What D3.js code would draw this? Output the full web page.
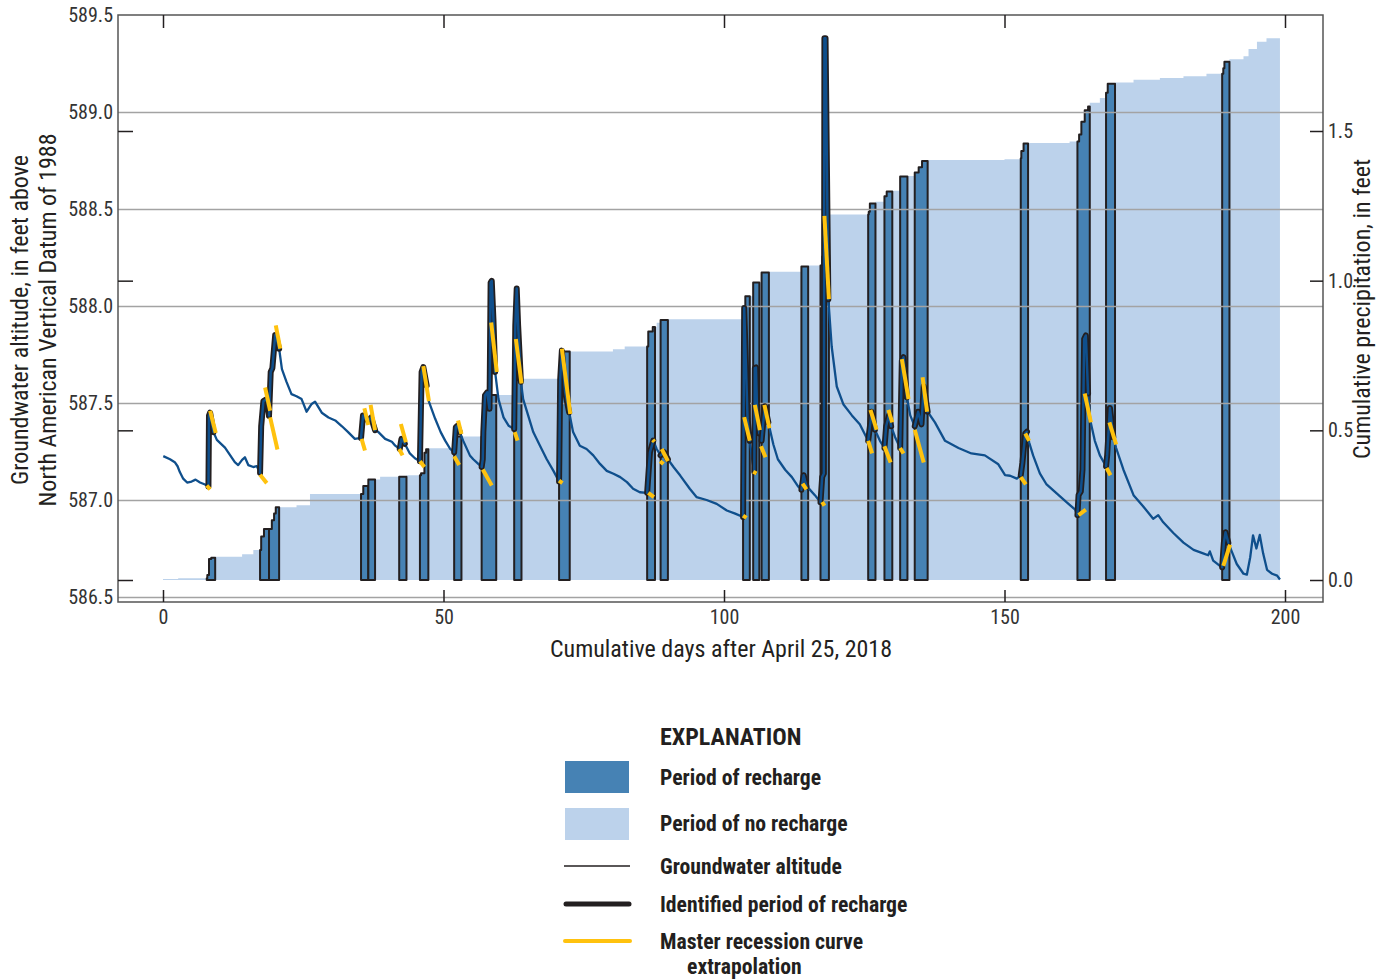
<!DOCTYPE html>
<html>
<head>
<meta charset="utf-8">
<script src="https://cdn.jsdelivr.net/npm/d3@7"></script>
<style>
  body { margin: 0; background: #fff; }
  svg text { font-family: "Liberation Sans Narrow", "Roboto Condensed", "DejaVu Sans Condensed", "Noto Sans", sans-serif; fill: #231f20; }
  .tick text { fill: #333; font-size: 20px; }
  .bold { font-weight: bold; }
</style>
</head>
<body>
<div id="chart"></div>
<script>
// tick values
const dayTicks = [0, 50, 100, 150, 200];
const altTicks = [586.5, 587.0, 587.5, 588.0, 588.5, 589.0, 589.5];
const precipTicks = [0.0, 0.5, 1.0, 1.5];

// cumulative precipitation, feet (step after each day)
const precipDays = [0, 2.7, 7.9, 8.2, 8.6, 9.3, 14.1, 16.1, 17.5, 18.0, 19.4, 19.8, 20.1, 23.8, 26.2,
  35.7, 36.6, 38.7, 43.4, 46.0, 46.6, 46.9, 47.3, 52.0, 57.0, 57.3, 57.8, 62.7, 63.9, 70.9, 71.3,
  80.2, 82.3, 86.5, 87.3, 88.0, 88.7, 90.0, 103.5, 103.8, 105.2, 106.7, 108.0, 113.8, 115.0, 117.5,
  117.9, 118.7, 125.8, 126.0, 127.0, 128.6, 129.0, 130.0, 131.4, 132.7, 134.0, 134.7, 135.3, 136.3,
  150.0, 152.9, 153.0, 153.4, 154.2, 161.6, 163.3, 163.7, 164.3, 164.9, 165.2, 167.0, 168.1, 168.4,
  169.7, 173.0, 177.7, 181.9, 186.0, 189.0, 189.2, 190.1, 192.6, 193.5, 195.0, 196.7, 199.1];
const precipValues = [0.003, 0.006, 0.017, 0.07, 0.074, 0.078, 0.086, 0.10, 0.145, 0.17, 0.20, 0.222, 0.243, 0.25, 0.287,
  0.314, 0.336, 0.345, 0.35, 0.357, 0.425, 0.437, 0.44, 0.479, 0.50, 0.612, 0.618, 0.668, 0.672, 0.72, 0.763,
  0.771, 0.78, 0.83, 0.845, 0.859, 0.869, 0.871, 0.905, 0.948, 0.994, 1.027, 1.03, 1.047, 1.051, 1.081,
  1.215, 1.221, 1.23, 1.258, 1.264, 1.282, 1.298, 1.30, 1.348, 1.35, 1.361, 1.379, 1.40, 1.403,
  1.406, 1.409, 1.433, 1.458, 1.46, 1.465, 1.488, 1.531, 1.569, 1.582, 1.594, 1.61, 1.628, 1.658,
  1.662, 1.671, 1.677, 1.683, 1.691, 1.71, 1.731, 1.74, 1.75, 1.774, 1.798, 1.81, 1.812];

// periods of recharge, start and end day
const rechargeStart = [7.8, 17.3, 18.9, 35.3, 36.6, 42.1, 45.8, 51.9, 56.8, 62.6, 70.6, 86.3, 88.7,
  103.4, 105.2, 106.7, 113.8, 117.2, 125.7, 128.6, 131.4, 134.0, 152.9, 163.0, 168.1, 188.8];
const rechargeEnd = [9.3, 18.9, 20.7, 36.6, 37.8, 43.4, 47.3, 53.2, 59.4, 63.9, 72.5, 87.7, 90.0,
  104.6, 106.3, 108.0, 115.0, 118.7, 127.0, 130.0, 132.7, 136.3, 154.2, 165.2, 169.7, 190.1];

// groundwater altitude, feet above NAVD 88
const gwDays = [0.05, 1.25, 2.1, 2.6, 3.0, 3.6, 4.3, 5.1, 5.8, 6.6, 7.5, 8.1, 8.2, 8.4, 9.0, 9.6, 11.05,
  12.8, 13.4, 14.1, 14.6, 15.2, 16.1, 16.7, 17.3, 17.5, 17.9, 18.5, 18.9, 19.2, 19.5, 20.0, 20.1, 20.7,
  21.2, 22.0, 22.9, 23.8, 24.7, 25.6, 26.5, 27.1, 28.3, 29.5, 30.7, 31.9, 33.0, 34.2, 35.3, 35.65, 36.0,
  36.6, 37.1, 37.8, 38.4, 39.6, 40.8, 41.4, 42.2, 42.5, 43.1, 44.0, 44.9, 45.8, 46.1, 46.4, 47.0, 47.4,
  48.5, 49.5, 50.3, 51.2, 51.9, 52.2, 52.5, 52.9, 53.5, 54.7, 55.3, 56.2, 56.8, 57.0, 57.1, 57.4, 57.8,
  58.2, 58.4, 58.6, 58.9, 59.2, 59.8, 60.7, 61.6, 62.6, 62.8, 63.05, 63.3, 63.8, 64.2, 65.1, 66.0, 67.2,
  68.4, 69.6, 70.6, 70.8, 71.1, 71.7, 72.4, 73.1, 74.3, 75.5, 76.7, 77.9, 79.1, 80.3, 81.5, 82.7, 83.8,
  85.0, 86.3, 86.8, 87.4, 88.0, 88.7, 89.3, 90.0, 91.0, 92.2, 93.9, 95.1, 96.9, 98.7, 100.5, 102.0,
  103.4, 103.6, 104.2, 104.6, 105.1, 105.4, 105.5, 105.7, 105.9, 106.3, 106.7, 107.0, 107.3, 107.9,
  108.8, 109.6, 110.9, 112.1, 113.2, 113.8, 114.2, 114.7, 115.1, 116.2, 117.2, 117.5, 117.8, 117.9,
  118.1, 118.6, 119.2, 120.1, 121.3, 122.8, 124.2, 125.7, 126.1, 126.3, 126.9, 127.8, 128.6, 128.9,
  129.4, 129.8, 130.5, 131.4, 131.7, 132.0, 132.6, 133.2, 134.0, 134.6, 135.2, 135.6, 136.3, 137.6,
  139.4, 141.8, 144.1, 146.5, 148.9, 150.1, 151.0, 152.2, 152.9, 153.2, 153.7, 154.0, 154.4, 155.1,
  156.3, 157.5, 159.3, 161.1, 162.6, 163.0, 163.2, 163.6, 163.9, 164.2, 164.5, 164.9, 165.3, 166.1,
  167.0, 168.1, 168.3, 168.8, 169.4, 169.9, 171.2, 173.0, 174.7, 176.5, 177.4, 178.3, 180.1, 181.9,
  183.7, 185.4, 186.3, 186.6, 187.2, 188.4, 188.8, 189.1, 189.4, 189.9, 190.5, 191.4, 192.6, 193.2,
  193.8, 194.3, 194.9, 195.5, 196.1, 196.8, 197.7, 198.6, 199.1];
const gwAltitude = [587.226, 587.21, 587.195, 587.174, 587.144, 587.11, 587.09, 587.095, 587.105, 587.09,
  587.08, 587.07, 587.435, 587.45, 587.35, 587.31, 587.27, 587.195, 587.18, 587.207, 587.22, 587.18,
  587.17, 587.175, 587.14, 587.38, 587.51, 587.52, 587.435, 587.66, 587.68, 587.85, 587.85, 587.78,
  587.675, 587.61, 587.546, 587.535, 587.52, 587.455, 587.495, 587.507, 587.45, 587.425, 587.41, 587.38,
  587.35, 587.315, 587.32, 587.435, 587.42, 587.41, 587.425, 587.36, 587.35, 587.315, 587.30, 587.28,
  587.263, 587.315, 587.29, 587.24, 587.215, 587.20, 587.66, 587.685, 587.59, 587.507, 587.42, 587.35,
  587.306, 587.263, 587.246, 587.375, 587.383, 587.35, 587.306, 587.23, 587.21, 587.186, 587.17, 587.21,
  587.35, 587.54, 587.555, 587.47, 588.12, 588.13, 587.93, 587.66, 587.52, 587.426, 587.383, 587.366,
  587.9, 588.09, 587.9, 587.61, 587.52, 587.435, 587.35, 587.28, 587.21, 587.15, 587.095, 587.62, 587.77,
  587.555, 587.452, 587.35, 587.28, 587.263, 587.23, 587.186, 587.15, 587.135, 587.118, 587.092, 587.058,
  587.04, 587.037, 587.246, 587.306, 587.263, 587.23, 587.246, 587.21, 587.17, 587.126, 587.058, 587.015,
  587.0, 586.98, 586.946, 586.93, 586.912, 587.99, 587.418, 587.305, 587.193, 587.146, 587.68, 587.683,
  587.455, 587.343, 587.305, 587.40, 587.483, 587.40, 587.286, 587.21, 587.156, 587.118, 587.07, 587.053,
  587.128, 587.07, 587.06, 587.025, 586.988, 587.118, 587.137, 589.38, 589.38, 588.035, 587.79, 587.585,
  587.492, 587.436, 587.39, 587.305, 587.40, 587.455, 587.362, 587.305, 587.268, 587.38, 587.436, 587.38,
  587.324, 587.268, 587.717, 587.736, 587.53, 587.436, 587.38, 587.455, 587.39, 587.586, 587.455, 587.40,
  587.305, 587.268, 587.24, 587.23, 587.184, 587.128, 587.125, 587.11, 587.128, 587.193, 587.343, 587.352,
  587.296, 587.23, 587.137, 587.08, 587.034, 586.988, 586.95, 586.922, 587.025, 587.044, 587.156, 587.83,
  587.848, 587.549, 587.408, 587.305, 587.23, 587.174, 587.23, 587.474, 587.324, 587.268, 587.156, 587.025,
  586.968, 586.903, 586.922, 586.885, 586.83, 586.78, 586.743, 586.725, 586.715, 586.735, 586.688, 586.66,
  586.653, 586.78, 586.834, 586.78, 586.735, 586.67, 586.62, 586.615, 586.705, 586.818, 586.75, 586.82,
  586.725, 586.64, 586.62, 586.61, 586.59];

// master recession curve extrapolations: [startDay, startAlt, endDay, endAlt]
const recessionSegments = [
  [7.8, 587.075, 8.4, 587.055], [8.4, 587.46, 9.4, 587.345], [17.3, 587.13, 18.5, 587.087],
  [18.2, 587.58, 19.1, 587.46], [19.1, 587.426, 20.4, 587.26], [20.1, 587.90, 20.9, 587.78],
  [35.4, 587.315, 36.0, 587.255], [35.9, 587.473, 36.6, 587.387], [37.0, 587.49, 37.8, 587.36],
  [42.1, 587.263, 42.7, 587.23], [42.4, 587.392, 43.3, 587.298], [45.8, 587.2, 46.6, 587.17],
  [46.4, 587.69, 47.4, 587.51], [51.9, 587.226, 52.8, 587.18], [52.6, 587.41, 53.2, 587.34],
  [57.0, 587.157, 58.6, 587.075], [58.5, 587.915, 59.5, 587.66], [62.7, 587.35, 63.2, 587.306],
  [62.9, 587.83, 63.9, 587.6], [70.6, 587.1, 71.2, 587.087], [71.1, 587.78, 72.6, 587.443],
  [86.5, 587.037, 87.5, 587.015], [87.3, 587.31, 87.6, 587.30], [88.6, 587.2, 89.2, 587.185],
  [88.9, 587.263, 90.0, 587.2], [103.4, 586.92, 104.0, 586.908], [103.6, 587.427, 104.6, 587.305],
  [105.2, 587.146, 105.8, 587.137], [105.5, 587.49, 106.4, 587.36], [106.6, 587.277, 107.4, 587.22],
  [107.2, 587.49, 108.1, 587.37], [114.0, 587.085, 114.7, 587.055], [117.5, 586.99, 117.9, 586.97],
  [117.9, 588.465, 118.7, 588.035], [125.7, 587.305, 126.4, 587.24], [126.1, 587.465, 127.2, 587.362],
  [128.6, 587.277, 129.7, 587.193], [129.3, 587.465, 130.0, 587.40], [131.4, 587.268, 132.0, 587.24],
  [131.7, 587.726, 132.9, 587.52], [134.0, 587.362, 135.6, 587.193], [135.4, 587.633, 136.2, 587.455],
  [152.9, 587.118, 153.8, 587.08], [153.7, 587.343, 154.4, 587.305], [163.2, 586.922, 164.5, 586.95],
  [164.3, 587.549, 165.4, 587.40], [168.2, 587.165, 168.9, 587.128], [168.7, 587.40, 169.9, 587.286],
  [189.0, 586.66, 190.2, 586.77]
];

const legendItems = ["Period of recharge", "Period of no recharge", "Groundwater altitude",
  "Identified period of recharge", "Master recession curve"];

const colors = {
  noRecharge: "#bcd2eb",
  recharge: "#4682b4",
  gw: "#0f4f8c",
  ink: "#231f20",
  yellow: "#ffc20e",
  grid: "#a3a3a3",
  frame: "#555"
};

const W = 1387, H = 980;
const frame = { left: 118, right: 1323, top: 15, bottom: 602 };

const x = d3.scaleLinear().domain([0, 200]).range([163, 1285]);
const yAlt = d3.scaleLinear().domain([586.5, 589.5]).range([597, 15]);
const yPre = d3.scaleLinear().domain([0, 1.5]).range([580, 131]);

const svg = d3.select("#chart").append("svg").attr("width", W).attr("height", H);

const precip = precipDays.map((d, i) => [d, precipValues[i]]);
const gw = gwDays.map((d, i) => [d, gwAltitude[i]]);

// value of step series at day
const bis = d3.bisector(d => d[0]).right;
function precipAt(day) {
  let i = bis(precip, day) - 1;
  return precip[Math.max(i, 0)][1];
}

const preArea = d3.area()
  .x(d => x(d[0]))
  .y0(yPre(0))
  .y1(d => yPre(d[1]))
  .curve(d3.curveStepAfter);

// no recharge area
svg.append("path")
  .datum(precip)
  .attr("d", preArea)
  .attr("fill", colors.noRecharge);

// recharge periods
rechargeStart.forEach((s, i) => {
  let e = rechargeEnd[i];
  let pts = [[s, precipAt(s)]].concat(precip.filter(p => p[0] > s && p[0] < e));
  pts.push([e, pts[pts.length - 1][1]]);
  svg.append("path")
    .datum(pts)
    .attr("d", preArea)
    .attr("fill", colors.recharge)
    .attr("stroke", colors.ink)
    .attr("stroke-width", 2)
    .attr("stroke-linejoin", "round");
});

// gridlines
svg.append("g")
  .attr("transform", `translate(${frame.left},0)`)
  .call(d3.axisLeft(yAlt).tickValues(altTicks.slice(0, 6)).tickSize(-(frame.right - frame.left)).tickFormat(""))
  .call(g => g.select(".domain").remove())
  .call(g => g.selectAll("line").attr("stroke", colors.grid).attr("stroke-width", 1.5));

// groundwater line
const gwLine = d3.line().x(d => x(d[0])).y(d => yAlt(d[1]));

svg.append("path")
  .datum(gw)
  .attr("d", gwLine)
  .attr("fill", "none")
  .attr("stroke", colors.gw)
  .attr("stroke-width", 2.3)
  .attr("stroke-linejoin", "round");

// identified periods of recharge
rechargeStart.forEach((s, i) => {
  let e = rechargeEnd[i];
  let pts = gw.filter(p => p[0] >= s - 0.05 && p[0] <= e + 0.05);
  if (pts.length < 2) return;
  svg.append("path")
    .datum(pts)
    .attr("d", gwLine)
    .attr("fill", "none")
    .attr("stroke", colors.ink)
    .attr("stroke-width", 6)
    .attr("stroke-linecap", "round")
    .attr("stroke-linejoin", "round");
  svg.append("path")
    .datum(pts)
    .attr("d", gwLine)
    .attr("fill", "none")
    .attr("stroke", colors.gw)
    .attr("stroke-width", 2.5)
    .attr("stroke-linecap", "round")
    .attr("stroke-linejoin", "round");
});

// recession extrapolations
svg.append("g").selectAll("line")
  .data(recessionSegments)
  .join("line")
  .attr("x1", d => x(d[0]))
  .attr("y1", d => yAlt(d[1]))
  .attr("x2", d => x(d[2]))
  .attr("y2", d => yAlt(d[3]))
  .attr("stroke", colors.yellow)
  .attr("stroke-width", 4);

// frame
svg.append("rect")
  .attr("x", frame.left).attr("y", frame.top)
  .attr("width", frame.right - frame.left).attr("height", frame.bottom - frame.top)
  .attr("fill", "none").attr("stroke", colors.frame).attr("stroke-width", 1.5);

function styleAxis(g) {
  g.select(".domain").remove();
  g.selectAll("line").attr("stroke", colors.ink).attr("stroke-width", 1.5);
}

// left labels
svg.append("g")
  .attr("transform", `translate(${frame.left},0)`)
  .call(d3.axisLeft(yAlt).tickValues(altTicks).tickSize(0).tickPadding(5).tickFormat(d3.format(".1f")))
  .call(styleAxis);

// precipitation ticks on both sides
svg.append("g")
  .attr("transform", `translate(${frame.left},0)`)
  .call(d3.axisLeft(yPre).tickValues(precipTicks).tickSize(-15).tickFormat(""))
  .call(styleAxis);
svg.append("g")
  .attr("transform", `translate(${frame.right},0)`)
  .call(d3.axisRight(yPre).tickValues(precipTicks).tickSize(-13).tickPadding(5).tickFormat(d3.format(".1f")))
  .call(styleAxis);

// day ticks top and bottom
svg.append("g")
  .attr("transform", `translate(0,${frame.bottom})`)
  .call(d3.axisBottom(x).tickValues(dayTicks).tickSize(-12).tickPadding(8))
  .call(styleAxis);
svg.append("g")
  .attr("transform", `translate(0,${frame.top})`)
  .call(d3.axisTop(x).tickValues(dayTicks).tickSize(-13).tickFormat(""))
  .call(styleAxis);

// axis titles
svg.append("text")
  .attr("transform", "translate(28,320) rotate(-90)")
  .attr("text-anchor", "middle").style("font-size", "24px")
  .text("Groundwater altitude, in feet above");
svg.append("text")
  .attr("transform", "translate(56,320) rotate(-90)")
  .attr("text-anchor", "middle").style("font-size", "24px")
  .text("North American Vertical Datum of 1988");
svg.append("text")
  .attr("transform", "translate(1370,309) rotate(-90)")
  .attr("text-anchor", "middle").style("font-size", "24px")
  .text("Cumulative precipitation, in feet");
svg.append("text")
  .attr("x", 721).attr("y", 657)
  .attr("text-anchor", "middle").style("font-size", "24px")
  .text("Cumulative days after April 25, 2018");

// legend
const lg = svg.append("g");
lg.append("text").attr("class", "bold").attr("x", 660).attr("y", 745)
  .style("font-size", "24px").text("EXPLANATION");
lg.append("rect").attr("x", 565).attr("y", 761).attr("width", 64).attr("height", 32).attr("fill", colors.recharge);
lg.append("rect").attr("x", 565).attr("y", 808).attr("width", 64).attr("height", 32).attr("fill", colors.noRecharge);
lg.append("line").attr("x1", 564).attr("x2", 630).attr("y1", 866).attr("y2", 866)
  .attr("stroke", colors.ink).attr("stroke-width", 1.5);
lg.append("line").attr("x1", 566).attr("x2", 629).attr("y1", 904).attr("y2", 904)
  .attr("stroke", colors.ink).attr("stroke-width", 5).attr("stroke-linecap", "round");
lg.append("line").attr("x1", 565).attr("x2", 630).attr("y1", 941).attr("y2", 941)
  .attr("stroke", colors.yellow).attr("stroke-width", 4).attr("stroke-linecap", "round");

const legendY = [777, 823, 866, 904, 941];
lg.selectAll(".lbl")
  .data(legendItems)
  .join("text")
  .attr("class", "lbl bold")
  .attr("x", 660)
  .attr("y", (d, i) => legendY[i])
  .attr("dy", "0.35em")
  .style("font-size", "21.7px")
  .text(d => d);
lg.append("text").attr("class", "bold").attr("x", 687).attr("y", 966).attr("dy", "0.35em")
  .style("font-size", "21.7px").text("extrapolation");
</script>
</body>
</html>
